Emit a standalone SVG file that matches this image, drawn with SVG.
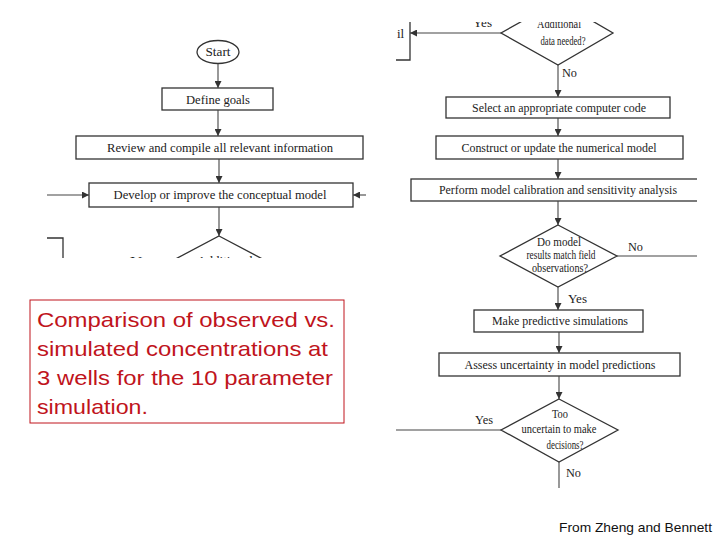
<svg xmlns="http://www.w3.org/2000/svg" width="720" height="540" viewBox="0 0 720 540">
<style>
.bx{fill:none;stroke:#333;stroke-width:1.3}
.ln{fill:none;stroke:#444;stroke-width:1.1}
.t{font-family:"Liberation Serif","Times New Roman",serif;font-size:13.5px;fill:#222;text-anchor:middle}
.ts{font-family:"Liberation Serif","Times New Roman",serif;font-size:12px;fill:#222;text-anchor:middle}
.tl{font-family:"Liberation Serif","Times New Roman",serif;font-size:13px;fill:#222}
.red{font-family:"Liberation Sans",Arial,sans-serif;font-size:21px;fill:#c0141c}
.src{font-family:"Liberation Sans",Arial,sans-serif;font-size:13px;fill:#111}
</style>
<defs>
<marker id="ah" viewBox="0 0 10 10" refX="10" refY="5" markerWidth="7" markerHeight="7" markerUnits="userSpaceOnUse" orient="auto">
<path d="M0,0 L10,5 L0,10 Z" fill="#333"/>
</marker>
<clipPath id="cl"><rect x="44" y="0" width="336" height="258"/></clipPath>
<clipPath id="cr"><rect x="396" y="22" width="301" height="466"/></clipPath>
</defs>
<rect width="720" height="540" fill="#fff"/>

<g clip-path="url(#cl)">
<g id="start"><ellipse class="bx" cx="218" cy="52" rx="21" ry="11.5"/><text class="t" x="218" y="56" textLength="25" lengthAdjust="spacingAndGlyphs">Start</text></g>
<g id="define"><rect class="bx" x="162" y="88" width="111" height="22"/><text class="t" x="218" y="104" textLength="64" lengthAdjust="spacingAndGlyphs">Define goals</text></g>
<g id="review"><rect class="bx" x="76" y="136" width="287" height="23"/><text class="t" x="220" y="152" textLength="226" lengthAdjust="spacingAndGlyphs">Review and compile all relevant information</text></g>
<g id="develop"><rect class="bx" x="89" y="183" width="264" height="24"/><text class="t" x="220" y="199" textLength="213" lengthAdjust="spacingAndGlyphs">Develop or improve the conceptual model</text></g>
<g id="diamond-left"><polygon class="bx" points="219,236 289,273 219,310 149,273"/><text class="t" x="225" y="264.5" font-size="14" textLength="56" lengthAdjust="spacingAndGlyphs">Additional</text><text class="tl" x="130" y="264.5" font-size="14" textLength="25" lengthAdjust="spacingAndGlyphs">Yes</text></g>
<g id="conn-left">
<line class="ln" x1="218" y1="64" x2="218" y2="88" marker-end="url(#ah)"/>
<line class="ln" x1="218" y1="110" x2="218" y2="136" marker-end="url(#ah)"/>
<line class="ln" x1="219" y1="159" x2="219" y2="183" marker-end="url(#ah)"/>
<line class="ln" x1="47" y1="195" x2="89" y2="195" marker-end="url(#ah)"/>
<line class="ln" x1="366" y1="195" x2="353" y2="195" marker-end="url(#ah)"/>
<line class="ln" x1="219" y1="207" x2="219" y2="236" marker-end="url(#ah)"/>
<polyline class="bx" points="47,238 63,238 63,258"/>
</g>
</g>

<g clip-path="url(#cr)">
<g id="collect"><polyline class="bx" points="410,20 410,60 396,60"/><text class="tl" x="397" y="38">il</text></g>
<g id="diamond-data"><polygon class="bx" points="558,1 613,33 558,65 501,33"/><text class="ts" x="559" y="28" textLength="44" lengthAdjust="spacingAndGlyphs">Additional</text><text class="ts" x="563" y="45" textLength="45" lengthAdjust="spacingAndGlyphs">data needed?</text></g>
<g id="select"><rect class="bx" x="446" y="97" width="224" height="21"/><text class="t" x="559" y="112" textLength="174" lengthAdjust="spacingAndGlyphs">Select an appropriate computer code</text></g>
<g id="construct"><rect class="bx" x="436" y="136" width="247" height="23"/><text class="t" x="559" y="152" textLength="195" lengthAdjust="spacingAndGlyphs">Construct or update the numerical model</text></g>
<g id="perform"><rect class="bx" x="411" y="179" width="300" height="22"/><text class="t" x="558" y="194" textLength="238" lengthAdjust="spacingAndGlyphs">Perform model calibration and sensitivity analysis</text></g>
<g id="diamond-match"><polygon class="bx" points="558,225 617,256 558,287 500,256"/><text class="ts" x="559" y="246" textLength="44" lengthAdjust="spacingAndGlyphs">Do model</text><text class="ts" x="561" y="259" textLength="69" lengthAdjust="spacingAndGlyphs">results match field</text><text class="ts" x="560" y="272" textLength="56" lengthAdjust="spacingAndGlyphs">observations?</text></g>
<g id="predict"><rect class="bx" x="474" y="310" width="169" height="22"/><text class="t" x="560" y="325" textLength="136" lengthAdjust="spacingAndGlyphs">Make predictive simulations</text></g>
<g id="assess"><rect class="bx" x="439" y="353" width="241" height="23"/><text class="t" x="560" y="369" textLength="191" lengthAdjust="spacingAndGlyphs">Assess uncertainty in model predictions</text></g>
<g id="diamond-uncertain"><polygon class="bx" points="559,399 618,430 559,462 501,430"/><text class="ts" x="560" y="418" textLength="16" lengthAdjust="spacingAndGlyphs">Too</text><text class="ts" x="559" y="433" textLength="75" lengthAdjust="spacingAndGlyphs">uncertain to make</text><text class="ts" x="565" y="449" textLength="37" lengthAdjust="spacingAndGlyphs">decisions?</text></g>
<g id="conn-right">
<line class="ln" x1="501" y1="33" x2="410" y2="33" marker-end="url(#ah)"/>
<line class="ln" x1="558" y1="65" x2="558" y2="97" marker-end="url(#ah)"/>
<line class="ln" x1="558" y1="118" x2="558" y2="136" marker-end="url(#ah)"/>
<line class="ln" x1="558" y1="159" x2="558" y2="179" marker-end="url(#ah)"/>
<line class="ln" x1="558" y1="201" x2="558" y2="225" marker-end="url(#ah)"/>
<line class="ln" x1="617" y1="256" x2="700" y2="256"/>
<line class="ln" x1="558" y1="287" x2="558" y2="310" marker-end="url(#ah)"/>
<line class="ln" x1="559" y1="332" x2="559" y2="353" marker-end="url(#ah)"/>
<line class="ln" x1="559" y1="376" x2="559" y2="399" marker-end="url(#ah)"/>
<line class="ln" x1="501" y1="430" x2="394" y2="430"/>
<line class="ln" x1="559" y1="462" x2="559" y2="490"/>
<text class="tl" x="473" y="27" textLength="19" lengthAdjust="spacingAndGlyphs">Yes</text>
<text class="tl" x="562" y="77" textLength="15" lengthAdjust="spacingAndGlyphs">No</text>
<text class="tl" x="628" y="251" textLength="15" lengthAdjust="spacingAndGlyphs">No</text>
<text class="tl" x="568" y="303" textLength="19" lengthAdjust="spacingAndGlyphs">Yes</text>
<text class="tl" x="475" y="424" textLength="18" lengthAdjust="spacingAndGlyphs">Yes</text>
<text class="tl" x="566" y="477" textLength="15" lengthAdjust="spacingAndGlyphs">No</text>
</g>
</g>

<g id="caption">
<rect x="30" y="300" width="314" height="123" fill="#fff" stroke="#c0141c" stroke-width="1"/>
<text class="red" x="37" y="327" textLength="298" lengthAdjust="spacingAndGlyphs">Comparison of observed vs.</text>
<text class="red" x="37" y="356" textLength="291" lengthAdjust="spacingAndGlyphs">simulated concentrations at</text>
<text class="red" x="37" y="385" textLength="296" lengthAdjust="spacingAndGlyphs">3 wells for the 10 parameter</text>
<text class="red" x="37" y="414" textLength="111" lengthAdjust="spacingAndGlyphs">simulation.</text>
</g>
<text class="src" x="559" y="532" textLength="153" lengthAdjust="spacingAndGlyphs">From Zheng and Bennett</text>
</svg>
